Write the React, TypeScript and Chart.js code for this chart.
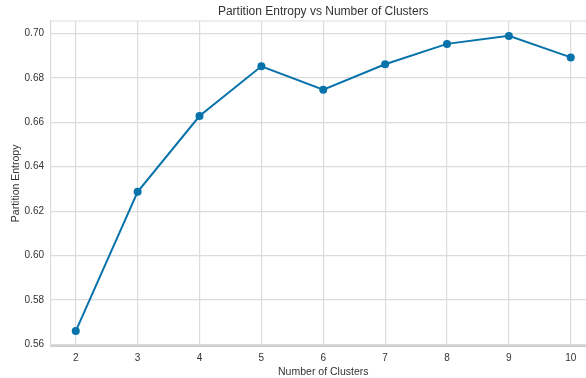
import React, { useEffect, useRef } from "react";
import { Chart, registerables } from "chart.js";

Chart.register(...registerables);

const clusters = [2, 3, 4, 5, 6, 7, 8, 9, 10];
const entropy = [0.566, 0.6287, 0.6628, 0.6852, 0.6747, 0.6861, 0.6953, 0.6989, 0.6892];
const xTicks = [2, 3, 4, 5, 6, 7, 8, 9, 10];
const yTicks = [0.56, 0.58, 0.6, 0.62, 0.64, 0.66, 0.68, 0.7];

const TITLE = "Partition Entropy vs Number of Clusters";
const X_LABEL = "Number of Clusters";
const Y_LABEL = "Partition Entropy";

const LINE = "#0872ab";
const GRID = "#dcdcdc";
const TEXT = "#333333";
const FONT = "'Liberation Sans', Arial, sans-serif";

export default function App() {
  const ref = useRef<HTMLCanvasElement | null>(null);

  useEffect(() => {
    document.body.style.margin = "0";
    document.body.style.overflow = "hidden";
    const canvas = ref.current;
    if (!canvas) return;

    const frame = {
      id: "frame",
      afterDraw(chart: any) {
        const { ctx, chartArea } = chart;
        ctx.save();
        ctx.strokeStyle = GRID;
        ctx.lineWidth = 1.2;
        ctx.beginPath();
        ctx.moveTo(chartArea.left, chartArea.top);
        ctx.lineTo(chartArea.right, chartArea.top);
        ctx.stroke();
        ctx.fillStyle = TEXT;
        ctx.font = `12px ${FONT}`;
        ctx.textAlign = "center";
        ctx.textBaseline = "middle";
        ctx.fillText(TITLE, (chartArea.left + chartArea.right) / 2, 11.5);
        ctx.restore();
      },
    };

    const chart = new Chart(canvas, {
      type: "line",
      data: {
        datasets: [
          {
            data: clusters.map((c, i) => ({ x: c, y: entropy[i] })),
            borderColor: LINE,
            backgroundColor: LINE,
            borderWidth: 2,
            pointRadius: 4,
            pointBackgroundColor: LINE,
            pointBorderColor: LINE,
            pointBorderWidth: 0,
            tension: 0,
          },
        ],
      },
      options: {
        animation: false,
        responsive: false,
        layout: { padding: { top: 21, right: 4.5, left: 0, bottom: 0 } },
        plugins: {
          legend: { display: false },
          title: { display: false },
          tooltip: { enabled: false },
        },
        scales: {
          x: {
            type: "linear",
            min: 1.6,
            max: 10.4,
            afterBuildTicks: (s: any) => {
              s.ticks = xTicks.map((v) => ({ value: v }));
            },
            afterFit: (s: any) => {
              s.height = 32.3;
            },
            grid: { color: GRID, lineWidth: 1.2, drawTicks: false },
            border: { color: "#cfcfcf", width: 2 },
            ticks: {
              padding: 7,
              color: TEXT,
              font: { family: FONT, size: 10 },
              callback: (v: any) => String(v),
            },
            title: {
              display: true,
              text: X_LABEL,
              color: TEXT,
              font: { family: FONT, size: 10.5 },
              padding: { top: 0, bottom: 0 },
            },
          },
          y: {
            type: "linear",
            min: 0.5594,
            max: 0.7056,
            afterBuildTicks: (s: any) => {
              s.ticks = yTicks.map((v) => ({ value: v }));
            },
            afterFit: (s: any) => {
              s.width = 51;
            },
            grid: { color: GRID, lineWidth: 1.2, drawTicks: false },
            border: { color: GRID, width: 1.2 },
            ticks: {
              padding: 7,
              color: TEXT,
              font: { family: FONT, size: 10 },
              callback: (v: any) => Number(v).toFixed(2),
            },
            title: {
              display: true,
              text: Y_LABEL,
              color: TEXT,
              font: { family: FONT, size: 10.5 },
              padding: { top: 10, bottom: 0 },
            },
          },
        },
      },
      plugins: [frame],
    } as any);

    return () => chart.destroy();
  }, []);

  return (
    <div style={{ position: "fixed", left: 0, top: 0, width: 586, height: 378, overflow: "hidden", background: "#fff" }}>
      <canvas ref={ref} width={600} height={378} style={{ width: 600, height: 378, display: "block" }} />
    </div>
  );
}
